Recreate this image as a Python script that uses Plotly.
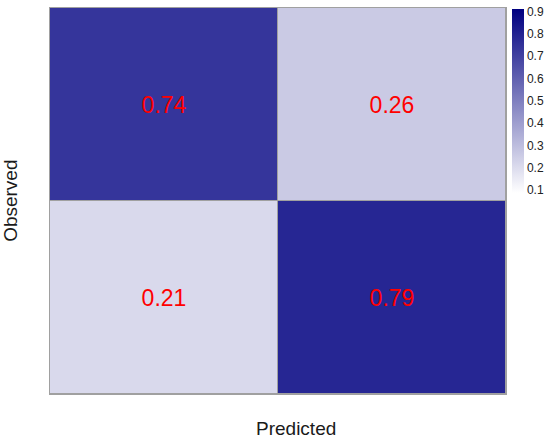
import plotly.graph_objects as go

predicted = ["0", "1"]
observed = ["0", "1"]  # listed top to bottom
rates = [[0.74, 0.26],
         [0.21, 0.79]]
cbar_ticks = [0.1, 0.2, 0.3, 0.4, 0.5, 0.6, 0.7, 0.8, 0.9]

font = "Liberation Sans, Arial, sans-serif"

fig = go.Figure(go.Heatmap(
    x=predicted, y=observed, z=rates,
    zmin=0.087, zmax=0.913,
    colorscale=[[0, "#ffffff"], [1, "#000080"]],
    xgap=1, ygap=1,
    texttemplate="%{z:.2f}",
    textfont=dict(color="#ff0000", size=23, family=font),
    hoverinfo="skip",
    colorbar=dict(
        thickness=12, lenmode="pixels", len=184,
        x=1.013, xanchor="left", xpad=0,
        y=0.998, yanchor="top", ypad=0,
        outlinewidth=0, ticks="",
        tickvals=cbar_ticks, ticktext=[f"{t:.1f}" for t in cbar_ticks],
        tickfont=dict(size=12, family=font, color="#222222"),
    ),
))

fig.update_xaxes(showticklabels=False, showgrid=False, zeroline=False,
                 showline=True, linecolor="#a0a0a0", linewidth=1, mirror=True)
fig.update_yaxes(showticklabels=False, showgrid=False, zeroline=False,
                 autorange="reversed",
                 showline=True, linecolor="#a0a0a0", linewidth=1, mirror=True)

fig.update_layout(
    width=550, height=440,
    margin=dict(l=50, r=44, t=8, b=46, autoexpand=False),
    plot_bgcolor="#a0a0a0",
    paper_bgcolor="white",
    font=dict(family=font, color="#1a1a1a"),
    annotations=[
        dict(text="Predicted", xref="paper", yref="paper", x=0.54, y=-0.09,
             xanchor="center", yanchor="middle", showarrow=False,
             font=dict(size=19)),
        dict(text="Observed", xref="paper", yref="paper", x=-0.088, y=0.5,
             xanchor="center", yanchor="middle", showarrow=False,
             textangle=-90, font=dict(size=19)),
    ],
)

fig.write_html("out.html", config={"displayModeBar": False},
               post_script="document.body.style.margin='0';")
